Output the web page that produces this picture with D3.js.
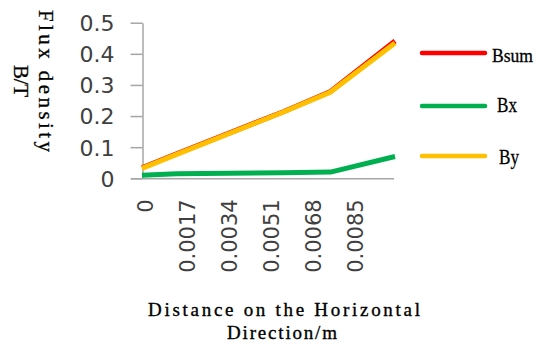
<!DOCTYPE html>
<html>
<head>
<meta charset="utf-8">
<script src="https://cdn.jsdelivr.net/npm/d3@7"></script>
<style>
  html, body { margin: 0; padding: 0; background: #fff; }
  svg { display: block; }
</style>
</head>
<body>
<svg id="chart" width="537" height="351"></svg>
<script>
// ---- data ----
const distances = [0, 0.0014, 0.0057, 0.0076, 0.0102];
const bsum = [0.034, 0.079, 0.214, 0.279, 0.441];
const bx   = [0.010, 0.015, 0.018, 0.020, 0.070];
const by   = [0.032, 0.077, 0.213, 0.277, 0.435];
const xTickValues = [0, 0.0017, 0.0034, 0.0051, 0.0068, 0.0085];
const xTickLabels = ["0", "0.0017", "0.0034", "0.0051", "0.0068", "0.0085"];
const yTickValues = [0, 0.1, 0.2, 0.3, 0.4, 0.5];
const yTickLabels = ["0", "0.1", "0.2", "0.3", "0.4", "0.5"];
const seriesNames = ["Bsum", "Bx", "By"];
const seriesColors = ["#ff0000", "#00b050", "#ffc000"];

const svg = d3.select("#chart");
const axisColor = "#a6a6a6";
const tickFont = "'DejaVu Sans', Verdana, sans-serif";
const titleFont = "'Liberation Serif', 'Times New Roman', serif";

const x = d3.scaleLinear().domain([0, 0.0102]).range([142, 395]);
const y = d3.scaleLinear().domain([0, 0.5]).range([178.3, 22.7]);

// Y axis
const yAxis = svg.append("g")
  .attr("transform", "translate(142.5,0)")
  .call(d3.axisLeft(y).tickValues(yTickValues)
    .tickFormat((d, i) => yTickLabels[i])
    .tickSize(12).tickSizeOuter(0).tickPadding(16));
yAxis.select(".domain").attr("stroke", axisColor).attr("stroke-width", 1.5);
yAxis.selectAll(".tick line").attr("stroke", axisColor).attr("stroke-width", 1.5);
yAxis.selectAll(".tick text")
  .attr("font-family", tickFont).attr("font-size", 22)
  .attr("fill", "#404040").attr("dy", "0.36em");

// X axis line (extends left to the y tick marks)
svg.append("line")
  .attr("x1", 131).attr("x2", 394)
  .attr("y1", y(0) + 0.5).attr("y2", y(0) + 0.5)
  .attr("stroke", axisColor).attr("stroke-width", 1.5);

// X tick labels (rotated)
const xAxis = svg.append("g")
  .attr("transform", `translate(0,${y(0)})`)
  .call(d3.axisBottom(x).tickValues(xTickValues)
    .tickFormat((d, i) => xTickLabels[i]).tickSize(0));
xAxis.select(".domain").remove();
xAxis.selectAll(".tick text")
  .attr("font-family", tickFont).attr("font-size", 21)
  .attr("fill", "#404040")
  .attr("text-anchor", "end")
  .attr("transform", "translate(10,21) rotate(-90)")
  .attr("x", 0).attr("y", 0).attr("dy", "0");

// Lines
const line = d3.line().x((d, i) => x(distances[i])).y(d => y(d));
const series = [bsum, bx, by];
series.forEach((vals, k) => {
  svg.append("path")
    .datum(vals)
    .attr("d", line)
    .attr("fill", "none")
    .attr("stroke", seriesColors[k])
    .attr("stroke-width", 5)
    .attr("stroke-linejoin", "round");
});

// Legend
const legendY = [53, 106, 156];
const legendTextY = [62, 112, 164];
const legendTextX = [492, 497, 499];
const legendTextLen = [41, 20, 20];
const legendFontSize = [19, 22, 22];
seriesNames.forEach((name, k) => {
  svg.append("line")
    .attr("x1", 422).attr("x2", 485)
    .attr("y1", legendY[k]).attr("y2", legendY[k])
    .attr("stroke", seriesColors[k]).attr("stroke-width", 4.5)
    .attr("stroke-linecap", "round");
  svg.append("text")
    .attr("x", legendTextX[k]).attr("y", legendTextY[k])
    .attr("font-family", titleFont).attr("font-size", legendFontSize[k])
    .attr("textLength", legendTextLen[k]).attr("lengthAdjust", "spacingAndGlyphs")
    .attr("fill", "#000").attr("stroke", "#000").attr("stroke-width", 0.3)
    .text(name);
});

// Y title
svg.append("text")
  .attr("transform", "translate(39,81) rotate(90)")
  .attr("text-anchor", "middle")
  .attr("font-family", titleFont).attr("font-size", 21)
  .attr("stroke", "#000").attr("stroke-width", 0.3)
  .attr("textLength", 142).attr("lengthAdjust", "spacing")
  .text("Flux density");
svg.append("text")
  .attr("transform", "translate(14,81) rotate(90)")
  .attr("text-anchor", "middle")
  .attr("font-family", titleFont).attr("font-size", 21)
  .attr("stroke", "#000").attr("stroke-width", 0.3)
  .attr("textLength", 32).attr("lengthAdjust", "spacing")
  .text("B/T");

// X title
svg.append("text")
  .attr("x", 284).attr("y", 316)
  .attr("text-anchor", "middle")
  .attr("font-family", titleFont).attr("font-size", 19)
  .attr("stroke", "#000").attr("stroke-width", 0.35)
  .attr("textLength", 272).attr("lengthAdjust", "spacing")
  .text("Distance on the Horizontal");
svg.append("text")
  .attr("x", 282).attr("y", 339)
  .attr("text-anchor", "middle")
  .attr("font-family", titleFont).attr("font-size", 19)
  .attr("stroke", "#000").attr("stroke-width", 0.35)
  .attr("textLength", 110).attr("lengthAdjust", "spacing")
  .text("Direction/m");
</script>
</body>
</html>
